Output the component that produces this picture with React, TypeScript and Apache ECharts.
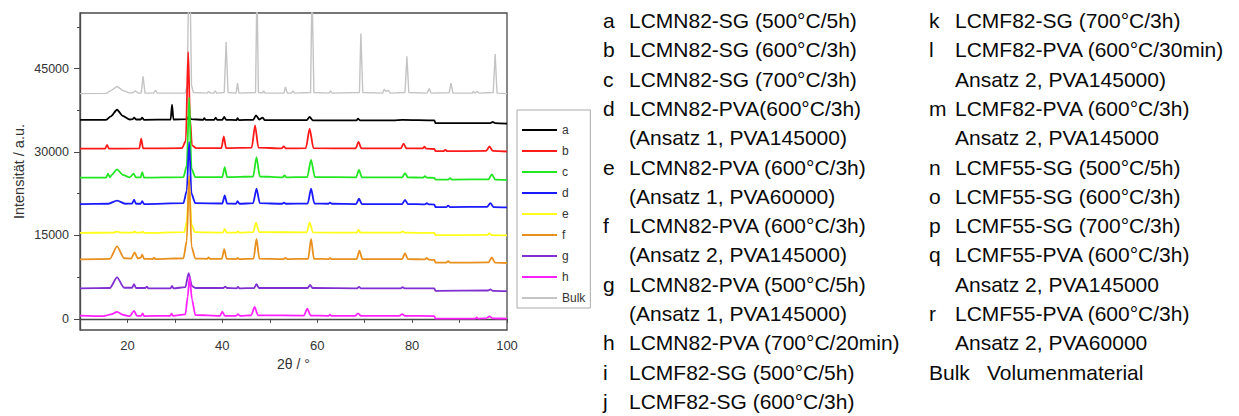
import React, { useEffect, useRef } from "react";
import * as echarts from "echarts";

// ---------- data (2θ / °, intensity / a.u.) ----------
const seriesNames = ["a", "b", "c", "d", "e", "f", "g", "h", "Bulk"];
const seriesColors = ["#000000", "#ff1a1a", "#22e622", "#1a1aff", "#ffff1a", "#e8901e", "#8030d0", "#ff22ff", "#c4c4c4"];

const dataBulk: number[][] = [
  [10, 40500], [15.5, 40550], [16.8, 41200], [17.8, 41800], [19, 41100], [20.5, 40600], [21.2, 40700], [21.7, 41000], [22.2, 40600],
  [22.9, 40600], [23.3, 43600], [23.7, 40600], [25.5, 40600], [25.9, 41100], [26.3, 40600], [32.2, 40600], [32.6, 42000], [32.9, 60000],
  [33.2, 60000], [33.5, 42000], [33.9, 40700], [36.8, 40600], [37.1, 40900], [37.5, 40600], [38.2, 40600], [38.5, 41000], [38.8, 40600],
  [40.4, 40700], [40.8, 49800], [41.2, 40700], [42.9, 40600], [43.2, 42400], [43.5, 40600], [47.0, 40700], [47.3, 60000], [47.6, 40700],
  [48.5, 40600], [48.7, 41000], [49, 40600], [53.0, 40600], [53.3, 41700], [53.7, 40600], [54.6, 40600], [54.9, 41000], [55.2, 40600],
  [58.6, 40700], [58.9, 60000], [59.3, 40700], [62.5, 40600], [62.8, 41000], [63.1, 40600], [68.9, 40700], [69.2, 51300], [69.6, 40700],
  [73.8, 40600], [74.1, 41300], [74.5, 40900], [75, 41100], [75.4, 40600], [78.5, 40700], [78.9, 47200], [79.3, 40700], [83.2, 40600],
  [83.6, 41400], [84.0, 40600], [87.8, 40650], [88.2, 42400], [88.6, 40600], [92.7, 40600], [92.9, 40900], [93.2, 40600], [93.8, 40900],
  [94.1, 40600], [97.1, 40700], [97.5, 47600], [97.9, 40600], [100, 40500],
];

const dataA: number[][] = [
  [10, 35800], [15.5, 35800], [16.5, 36400], [17.8, 37600], [19, 36500], [20.5, 35850], [21.1, 35900], [21.4, 36200], [21.8, 35850],
  [22.8, 35850], [23.1, 36200], [23.5, 35800], [29.1, 35850], [29.4, 38500], [29.7, 35850], [32.6, 35900], [33.0, 36600], [33.4, 35900],
  [36.0, 35800], [36.2, 36100], [36.5, 35800], [38.3, 35800], [38.6, 36200], [38.9, 35800], [40.0, 35800], [40.4, 36300], [40.8, 35800],
  [43.0, 35750], [43.2, 36100], [43.5, 35750], [46.5, 35800], [47.1, 36600], [47.8, 35850], [48.5, 36200], [48.9, 35750], [57.8, 35750],
  [58.4, 36300], [59.1, 35700], [68.3, 35700], [68.6, 36000], [69, 35700], [76, 35700], [78, 35800], [84.7, 35700], [84.9, 35200],
  [96.5, 35200], [97, 35400], [97.5, 35200], [100, 35100],
];

const dataB: number[][] = [
  [10, 30600], [15.3, 30600], [15.7, 31300], [16.1, 30600], [22.5, 30650], [22.9, 32400], [23.3, 30650], [31.5, 30700], [32.3, 32000],
  [32.8, 48000], [33.2, 36000], [33.6, 31200], [34.5, 30700], [39.8, 30700], [40.3, 32800], [40.8, 30700], [46.2, 30800], [46.9, 34800],
  [47.6, 30800], [52.5, 30650], [52.9, 31000], [53.4, 30650], [57.6, 30700], [58.4, 34200], [59.2, 30700], [68.1, 30650], [68.7, 31800],
  [69.3, 30650], [77.6, 30650], [78.2, 31500], [78.8, 30650], [82.2, 30650], [82.6, 30950], [83.0, 30600], [84.7, 30550], [84.9, 30150],
  [86.6, 30150], [87.0, 30400], [87.4, 30150], [95.6, 30200], [96.3, 31000], [97.0, 30200], [100, 30100],
];

const dataC: number[][] = [
  [10, 25400], [15.5, 25400], [15.9, 26100], [16.3, 25450], [16.7, 25900], [17.8, 26900], [19.0, 25900], [20.5, 25450], [21.3, 26100],
  [21.8, 25450], [22.8, 25450], [23.1, 26400], [23.5, 25400], [31.8, 25500], [32.5, 27500], [33.0, 39800], [33.5, 27000], [34.3, 25500],
  [40.0, 25500], [40.5, 27300], [41.0, 25500], [46.5, 25600], [47.2, 29100], [47.9, 25600], [52.7, 25450], [53.1, 25800], [53.5, 25450],
  [57.9, 25500], [58.7, 28600], [59.5, 25500], [68.2, 25450], [68.8, 26800], [69.4, 25450], [77.9, 25450], [78.5, 26200], [79.1, 25450],
  [82.3, 25400], [82.7, 25650], [83.1, 25400], [84.7, 25350], [84.9, 25050], [87.6, 25050], [88, 25300], [88.4, 25050], [96.1, 25100],
  [96.8, 26000], [97.5, 25050], [100, 25000],
];

const dataD: number[][] = [
  [10, 20650], [16.0, 20700], [17.8, 21270], [19.5, 20700], [21.0, 20750], [21.4, 21450], [21.8, 20700], [22.8, 20700], [23.1, 21150],
  [23.5, 20650], [31.8, 20800], [32.5, 23000], [33.0, 31800], [33.5, 22500], [34.3, 20800], [40.0, 20750], [40.5, 22200], [41.0, 20750],
  [42.9, 20700], [43.2, 21150], [43.6, 20700], [46.5, 20800], [47.2, 23400], [47.9, 20800], [52.6, 20700], [53, 20900], [53.4, 20700],
  [58.0, 20750], [58.7, 23400], [59.4, 20750], [62.4, 20700], [62.7, 20900], [63.1, 20700], [68.2, 20650], [68.8, 21600], [69.4, 20650],
  [77.9, 20650], [78.5, 21400], [79.1, 20650], [82.7, 20600], [83.1, 20800], [83.5, 20600], [84.7, 20550], [84.9, 20100], [87.2, 20100],
  [87.6, 20350], [88.0, 20100], [95.8, 20150], [96.5, 20800], [97.2, 20100], [100, 20050],
];

const dataE: number[][] = [
  [10, 15450], [17, 15500], [17.8, 15700], [18.6, 15500], [21.2, 15500], [21.5, 15750], [21.8, 15500], [22.9, 15500], [23.2, 15700],
  [23.5, 15450], [32.0, 15600], [32.5, 17500], [33.0, 24000], [33.5, 17000], [34.2, 15600], [40.1, 15500], [40.5, 16200], [40.9, 15500],
  [43.0, 15500], [43.3, 15750], [43.6, 15500], [46.5, 15600], [47.1, 17250], [47.8, 15600], [57.8, 15550], [58.4, 17350], [59.1, 15550],
  [68.3, 15500], [68.7, 16000], [69.1, 15500], [77.6, 15500], [78.0, 15750], [78.4, 15500], [84.7, 15450], [84.9, 15050], [95.8, 15100],
  [96.3, 15350], [96.8, 15050], [100, 15000],
];

const dataF: number[][] = [
  [10, 10700], [16.3, 10800], [17.8, 13050], [19.3, 10900], [20.8, 10850], [21.5, 11950], [22.2, 10850], [22.8, 11000], [23.1, 11550],
  [23.5, 10800], [25.3, 10750], [25.6, 11000], [25.9, 10750], [31.8, 10900], [32.5, 14000], [33.0, 25800], [33.5, 13000], [34.3, 10850],
  [36.8, 10800], [37.1, 11050], [37.4, 10800], [39.9, 10800], [40.4, 12550], [40.9, 10800], [42.9, 10750], [43.2, 10950], [43.5, 10750],
  [46.6, 10850], [47.2, 14400], [47.8, 10850], [52.9, 10750], [53.3, 10950], [53.7, 10750], [58.1, 10800], [58.7, 14400], [59.3, 10800],
  [62.4, 10750], [62.7, 10950], [63.0, 10750], [68.3, 10750], [68.9, 12250], [69.5, 10750], [77.9, 10750], [78.5, 11800], [79.1, 10750],
  [82.7, 10700], [83.1, 10950], [83.5, 10650], [84.7, 10600], [84.9, 10100], [87.2, 10100], [87.6, 10400], [88.0, 10100], [96.1, 10150],
  [96.8, 11050], [97.5, 10100], [100, 10050],
];

const dataG: number[][] = [
  [10, 5500], [16.3, 5550], [17.8, 7450], [19.3, 5600], [21.0, 5600], [21.4, 6250], [21.8, 5550], [23.8, 5550], [24.1, 5800], [24.4, 5500],
  [29.1, 5500], [29.4, 5950], [29.7, 5500], [32.2, 5700], [32.9, 8200], [33.6, 5900], [34.3, 5550], [40.2, 5550], [40.6, 5800], [41.0, 5550],
  [43.0, 5500], [43.3, 5750], [43.6, 5500], [46.7, 5550], [47.2, 6250], [47.7, 5550], [58.0, 5550], [58.5, 6100], [59.0, 5550], [68.4, 5500],
  [68.8, 5750], [69.2, 5500], [77.6, 5500], [78, 5700], [78.4, 5500], [84.7, 5500], [84.9, 5050], [96, 5100], [96.5, 5300], [97, 5050],
  [100, 5000],
];

const dataH: number[][] = [
  [10, 600], [15, 500], [16.5, 800], [17.8, 1250], [19.2, 700], [20.5, 500], [21.4, 1450], [22.0, 550], [22.9, 550], [23.2, 1000], [23.5, 500],
  [29.0, 550], [29.3, 950], [29.6, 550], [32.2, 800], [32.7, 4000], [33.1, 7600], [33.6, 3500], [34.3, 700], [39.5, 550], [40.0, 1300],
  [40.5, 550], [42.9, 550], [43.3, 850], [43.7, 550], [46.1, 650], [46.8, 2150], [47.5, 650], [57.2, 600], [57.9, 1850], [58.6, 600],
  [62.4, 550], [62.7, 750], [63, 550], [68.0, 550], [68.6, 1000], [69.2, 550], [77.3, 550], [77.9, 850], [78.5, 550], [84.7, 500], [84.9, 50],
  [93.3, 50], [93.6, 250], [93.9, 50], [95.6, 100], [96.3, 450], [97, 80], [100, 50],
];

const seriesData = [dataA, dataB, dataC, dataD, dataE, dataF, dataG, dataH, dataBulk];

const yLabelValues = [0, 15000, 30000, 45000];
const yMinorTicks = [7500, 22500, 37500, 52500];
const xLabelValues = [20, 40, 60, 80, 100];

const descCol1: string[][] = [
  ["a", "LCMN82-SG (500°C/5h)"],
  ["b", "LCMN82-SG (600°C/3h)"],
  ["c", "LCMN82-SG (700°C/3h)"],
  ["d", "LCMN82-PVA(600°C/3h)"],
  ["", "(Ansatz 1, PVA145000)"],
  ["e", "LCMN82-PVA (600°C/3h)"],
  ["", "(Ansatz 1, PVA60000)"],
  ["f", "LCMN82-PVA (600°C/3h)"],
  ["", "(Ansatz 2, PVA145000)"],
  ["g", "LCMN82-PVA (500°C/5h)"],
  ["", "(Ansatz 1, PVA145000)"],
  ["h", "LCMN82-PVA (700°C/20min)"],
  ["i", "LCMF82-SG (500°C/5h)"],
  ["j", "LCMF82-SG (600°C/3h)"],
];
const descCol2: string[][] = [
  ["k", "LCMF82-SG (700°C/3h)"],
  ["l", "LCMF82-PVA (600°C/30min)"],
  ["", "Ansatz 2, PVA145000)"],
  ["m", "LCMF82-PVA (600°C/3h)"],
  ["", "Ansatz 2, PVA145000"],
  ["n", "LCMF55-SG (500°C/5h)"],
  ["o", "LCMF55-SG (600°C/3h)"],
  ["p", "LCMF55-SG (700°C/3h)"],
  ["q", "LCMF55-PVA (600°C/3h)"],
  ["", "Ansatz 2, PVA145000"],
  ["r", "LCMF55-PVA (600°C/3h)"],
  ["", "Ansatz 2, PVA60000"],
];
const bulkDesc = ["Bulk", "Volumenmaterial"];

const FONT = '"Liberation Sans", Arial, Helvetica, sans-serif';

function textEl(text: string, x: number, y: number) {
  return {
    type: "text",
    x,
    y,
    silent: true,
    style: { text, fill: "#0a0a0a", fontSize: 21, fontFamily: FONT, verticalAlign: "middle", align: "left" },
  };
}

function buildGraphic() {
  const els: any[] = [];
  const rowY = (i: number) => 20.5 + i * 29.3;
  descCol1.forEach((r, i) => {
    if (r[0]) els.push(textEl(r[0], 603, rowY(i)));
    els.push(textEl(r[1], 629, rowY(i)));
  });
  descCol2.forEach((r, i) => {
    if (r[0]) els.push(textEl(r[0], 929, rowY(i)));
    els.push(textEl(r[1], 955, rowY(i)));
  });
  els.push(textEl(bulkDesc[0], 929, rowY(12)));
  els.push(textEl(bulkDesc[1], 987, rowY(12)));
  return els;
}

export default function App() {
  const ref = useRef<HTMLDivElement>(null);
  useEffect(() => {
    const chart = echarts.init(ref.current!, null, { renderer: "svg" });
    const axisColor = "#4a4a4a";
    const series: any[] = [];
    // Bulk drawn first (underneath), then a..h
    const order = [8, 0, 1, 2, 3, 4, 5, 6, 7];
    order.forEach((i) => {
      series.push({
        name: seriesNames[i],
        type: "line",
        data: seriesData[i],
        showSymbol: false,
        symbol: "none",
        clip: true,
        smooth: i === 8 ? false : 0.25,
        smoothMonotone: "x",
        lineStyle: { width: i === 8 ? 1.4 : 1.8, color: seriesColors[i] },
        itemStyle: { color: seriesColors[i] },
        z: 2,
      });
    });
    const option: any = {
      animation: false,
      backgroundColor: "#fff",
      textStyle: { fontFamily: FONT },
      grid: {
        left: 80,
        top: 13,
        width: 427,
        height: 317,
        show: true,
        borderColor: axisColor,
        borderWidth: 1.3,
        backgroundColor: "transparent",
      },
      legend: {
        data: seriesNames,
        orient: "vertical",
        left: 517,
        top: 110,
        padding: [14, 5, 4, 5],
        icon: "rect",
        itemWidth: 35,
        itemHeight: 2,
        itemGap: 9,
        borderColor: "#aaa",
        borderWidth: 1,
        selectedMode: false,
        textStyle: { fontSize: 12, color: "#333", lineHeight: 10, height: 10, fontFamily: FONT },
      },
      xAxis: {
        type: "value",
        min: 10,
        max: 100,
        interval: 10,
        name: "2θ / °",
        nameLocation: "middle",
        nameGap: 22,
        nameTextStyle: { fontSize: 14, color: "#333", fontFamily: FONT },
        axisLine: { show: true, lineStyle: { color: axisColor, width: 1.3 } },
        axisTick: { show: true, inside: false, length: 4, lineStyle: { color: axisColor } },
        axisLabel: {
          fontSize: 13,
          color: "#333",
          margin: 9,
          formatter: (v: number) => (xLabelValues.indexOf(v) >= 0 ? String(v) : ""),
        },
        splitLine: { show: false },
      },
      yAxis: [
        {
          type: "value",
          min: -2000,
          max: 55000,
          name: "Intensität / a.u.",
          nameLocation: "middle",
          nameGap: 54,
          nameRotate: 90,
          nameTextStyle: { fontSize: 14.5, color: "#333", fontFamily: FONT },
          axisLine: { show: true, lineStyle: { color: axisColor, width: 1.3 } },
          axisTick: { show: true, length: 6, customValues: yLabelValues, lineStyle: { color: axisColor } },
          axisLabel: {
            fontSize: 12.5,
            color: "#333",
            margin: 11,
            customValues: yLabelValues,
            formatter: (v: number) => String(v),
          },
          splitLine: { show: false },
        },
        {
          type: "value",
          min: -2000,
          max: 55000,
          position: "left",
          axisLine: { show: false },
          axisTick: { show: true, length: 3, customValues: yMinorTicks, lineStyle: { color: axisColor } },
          axisLabel: { show: false },
          splitLine: { show: false },
        },
      ],
      series,
      graphic: buildGraphic(),
    };
    chart.setOption(option);
    return () => chart.dispose();
  }, []);
  return (
    <div
      ref={ref}
      style={{ position: "fixed", left: 0, top: 0, width: 1239, height: 416, background: "#fff" }}
    />
  );
}
